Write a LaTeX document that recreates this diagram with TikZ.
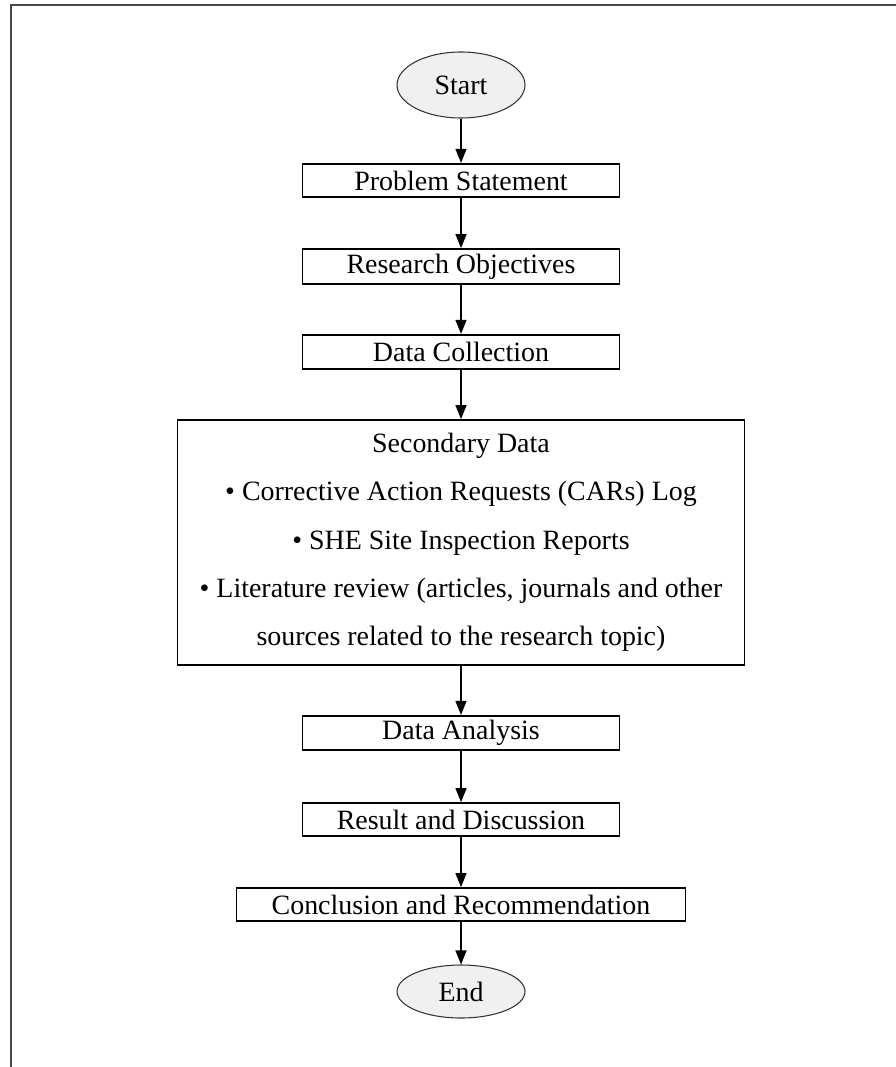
\documentclass[tikz,border=0pt]{standalone}
\usepackage{fontspec}
\setmainfont{Liberation Serif}
\usepackage{tikz}
\usetikzlibrary{shapes.geometric, arrows.meta, positioning}
\definecolor{termfill}{HTML}{F0F0F0}
\definecolor{framegray}{HTML}{4A4A4A}

\begin{document}
\begin{tikzpicture}[every node/.style={font=\fontsize{15.9}{19}\selectfont}]
\tikzstyle{terminal} = [ellipse, draw=black!80, fill=termfill, line width=0.6pt, minimum width=2.56cm, inner sep=0pt]
\tikzstyle{process} = [rectangle, draw=black, line width=1pt, minimum width=6.34cm, minimum height=0.67cm, inner sep=0pt]
\tikzstyle{arrow} = [-{Triangle[length=0.28cm, width=0.22cm]}, line width=0.75pt]

\useasboundingbox (0,0) rectangle (17.9,-21.34);

% Frame
\draw[framegray, line width=1.4pt] (0.22,-21.4) -- (0.22,-0.10) -- (18,-0.10);

% Nodes
\node[terminal, minimum height=1.32cm] (start) at (9.22,-1.70) {Start};
\node[process] (prob) at (9.22,-3.61) {Problem Statement};
\node[process, minimum height=0.70cm] (obj) at (9.22,-5.33) {Research Objectives};
\node[process, minimum height=0.69cm] (coll) at (9.22,-7.04) {Data Collection};
\node[process, minimum width=11.34cm, minimum height=4.90cm, align=center,
      font=\fontsize{15.9}{27.5}\selectfont] (sec) at (9.22,-10.85)
  {Secondary Data\\
   • Corrective Action Requests (CARs) Log\\
   • SHE Site Inspection Reports\\
   • Literature review (articles, journals and other\\
   sources related to the research topic)};
\node[process, minimum height=0.69cm] (anal) at (9.22,-14.66) {Data Analysis};
\node[process, minimum height=0.66cm] (res) at (9.22,-16.39) {Result and Discussion};
\node[process, minimum width=8.98cm, minimum height=0.66cm] (concl) at (9.22,-18.09) {Conclusion and Recommendation};
\node[terminal, minimum height=1.06cm] (stop) at (9.22,-19.83) {End};

% Arrows
\draw[arrow] (start) -- (prob);
\draw[arrow] (prob) -- (obj);
\draw[arrow] (obj) -- (coll);
\draw[arrow] (coll) -- (sec);
\draw[arrow] (sec) -- (anal);
\draw[arrow] (anal) -- (res);
\draw[arrow] (res) -- (concl);
\draw[arrow] (concl) -- (stop);

\end{tikzpicture}
\end{document}
